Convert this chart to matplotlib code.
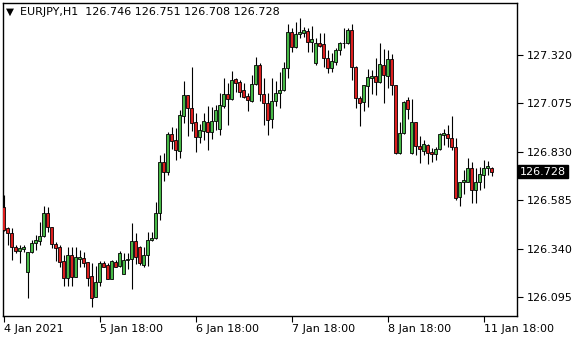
import numpy as np
import matplotlib
matplotlib.use("Agg")
import matplotlib.pyplot as plt
import matplotlib.transforms as mtransforms

symbol = "EURJPY,H1"

# hourly candles, oldest first (open, high, low, close)
opens = [126.549, 126.442, 126.417, 126.346, 126.329, 126.339, 126.220, 126.321, 126.367, 126.380,
         126.404, 126.518, 126.448, 126.362, 126.346, 126.277, 126.193, 126.306, 126.198, 126.289,
         126.291, 126.272, 126.200, 126.097, 126.170, 126.266, 126.255, 126.188, 126.272, 126.250,
         126.213, 126.281, 126.286, 126.378, 126.348, 126.258, 126.306, 126.382, 126.392, 126.518,
         126.776, 126.729, 126.917, 126.887, 126.832, 127.012, 127.116, 127.049, 126.982, 126.904,
         126.934, 126.980, 126.931, 126.985, 126.944, 127.060, 127.121, 127.096, 127.197, 127.182,
         127.141, 127.111, 127.087, 127.172, 127.268, 127.120, 127.074, 126.994, 127.086, 127.125,
         127.141, 127.251, 127.433, 127.360, 127.423, 127.431, 127.439, 127.382, 127.276, 127.377,
         127.372, 127.301, 127.251, 127.284, 127.343, 127.377, 127.377, 127.444, 127.259, 127.099,
         127.079, 127.163, 127.203, 127.212, 127.182, 127.268, 127.212, 127.296, 127.166, 126.821,
         126.922, 127.091, 126.824, 126.978, 126.858, 126.835, 126.863, 126.830, 126.816, 126.842,
         126.915, 126.917, 126.897, 126.855, 126.599, 126.675, 126.678, 126.746, 126.636, 126.675,
         126.712, 126.746, 126.746]
highs = [126.611, 126.451, 126.442, 126.358, 126.358, 126.358, 126.324, 126.383, 126.409, 126.476,
         126.555, 126.552, 126.451, 126.375, 126.358, 126.308, 126.349, 126.349, 126.349, 126.333,
         126.324, 126.274, 126.266, 126.252, 126.279, 126.279, 126.266, 126.282, 126.282, 126.329,
         126.319, 126.316, 126.471, 126.417, 126.353, 126.349, 126.425, 126.425, 126.577, 126.813,
         126.823, 126.931, 126.954, 126.948, 127.040, 127.187, 127.118, 127.259, 127.027, 126.968,
         127.027, 127.060, 127.057, 127.065, 127.125, 127.200, 127.175, 127.237, 127.200, 127.192,
         127.175, 127.125, 127.217, 127.310, 127.278, 127.200, 127.125, 127.200, 127.187, 127.234,
         127.284, 127.477, 127.453, 127.483, 127.504, 127.461, 127.453, 127.465, 127.403, 127.431,
         127.431, 127.343, 127.327, 127.352, 127.385, 127.453, 127.453, 127.475, 127.262, 127.110,
         127.168, 127.246, 127.242, 127.304, 127.380, 127.347, 127.343, 127.323, 127.168, 126.978,
         127.087, 127.104, 127.094, 126.980, 126.909, 126.889, 126.868, 126.847, 126.855, 126.924,
         126.943, 126.964, 127.010, 126.897, 126.678, 126.737, 126.796, 126.779, 126.748, 126.754,
         126.788, 126.784, 126.751]
lows = [126.429, 126.358, 126.282, 126.316, 126.269, 126.324, 126.089, 126.316, 126.333, 126.358,
        126.400, 126.425, 126.341, 126.277, 126.245, 126.151, 126.151, 126.151, 126.196, 126.248,
        126.245, 126.151, 126.043, 126.094, 126.151, 126.245, 126.185, 126.185, 126.245, 126.245,
        126.211, 126.235, 126.134, 126.262, 126.257, 126.245, 126.253, 126.378, 126.388, 126.484,
        126.681, 126.712, 126.842, 126.790, 126.799, 126.975, 126.909, 126.933, 126.830, 126.875,
        126.889, 126.838, 126.894, 126.939, 126.914, 127.049, 126.964, 127.091, 127.133, 127.107,
        127.099, 127.037, 127.082, 127.166, 127.086, 126.964, 126.916, 126.948, 127.060, 127.052,
        127.138, 127.200, 127.335, 127.355, 127.403, 127.411, 127.335, 127.335, 127.268, 127.360,
        127.259, 127.226, 127.234, 127.268, 127.318, 127.352, 127.375, 127.192, 127.049, 126.961,
        127.037, 127.057, 127.121, 127.116, 127.175, 127.076, 127.151, 127.116, 126.819, 126.819,
        126.919, 126.993, 126.818, 126.813, 126.774, 126.813, 126.767, 126.779, 126.788, 126.838,
        126.863, 126.855, 126.838, 126.585, 126.557, 126.616, 126.676, 126.569, 126.569, 126.636,
        126.645, 126.712, 126.708]
closes = [126.434, 126.417, 126.346, 126.329, 126.341, 126.346, 126.321, 126.367, 126.383, 126.404,
          126.518, 126.451, 126.362, 126.344, 126.274, 126.193, 126.306, 126.198, 126.296, 126.296,
          126.269, 126.193, 126.089, 126.170, 126.266, 126.248, 126.188, 126.277, 126.248, 126.318,
          126.281, 126.287, 126.378, 126.299, 126.266, 126.306, 126.382, 126.392, 126.518, 126.776,
          126.729, 126.917, 126.885, 126.837, 127.014, 127.116, 127.049, 126.977, 126.904, 126.939,
          126.985, 126.931, 126.985, 127.040, 127.065, 127.121, 127.096, 127.192, 127.178, 127.133,
          127.107, 127.091, 127.172, 127.268, 127.120, 127.074, 126.992, 127.086, 127.125, 127.141,
          127.251, 127.433, 127.360, 127.423, 127.433, 127.444, 127.382, 127.399, 127.377, 127.365,
          127.301, 127.251, 127.288, 127.343, 127.377, 127.380, 127.444, 127.256, 127.102, 127.074,
          127.166, 127.205, 127.212, 127.183, 127.271, 127.217, 127.296, 127.166, 126.821, 126.922,
          127.082, 127.044, 126.978, 126.858, 126.842, 126.868, 126.824, 126.816, 126.842, 126.919,
          126.922, 126.897, 126.855, 126.594, 126.675, 126.686, 126.746, 126.636, 126.675, 126.717,
          126.746, 126.757, 126.728]

price_ticks = [126.095, 126.340, 126.585, 126.830, 127.075, 127.320]
date_ticks = [0, 24, 48, 72, 96, 120]
date_labels = ["4 Jan 2021", "5 Jan 18:00", "6 Jan 18:00", "7 Jan 18:00", "8 Jan 18:00", "11 Jan 18:00"]

o = np.array(opens)
h = np.array(highs)
l = np.array(lows)
c = np.array(closes)
x = np.arange(len(o))
up = c >= o
cols = np.where(up, "#46b946", "#dc1e1e")

fig = plt.figure(figsize=(5.8, 3.4), dpi=100)
ax = fig.add_axes([3 / 580, (340 - 315.7) / 340, (516.7 - 3) / 580, (315.7 - 3) / 340])

ax.vlines(x, l, h, color="black", linewidth=0.8, zorder=2)
ax.bar(x, np.maximum(np.abs(c - o), 0.002), bottom=np.minimum(o, c), width=0.62,
       color=cols, edgecolor="black", linewidth=0.6, zorder=3)

ax.set_xlim(-0.125, 128.3)
ax.set_ylim(126.0006, 127.581)

ax.yaxis.tick_right()
ax.set_yticks(price_ticks)
ax.set_yticklabels(["%.3f" % p for p in price_ticks])
ax.tick_params(axis="y", direction="out", length=4, width=0.8, pad=3, labelsize=8)
ax.set_xticks(date_ticks)
ax.set_xticklabels(date_labels, ha="left")
ax.tick_params(axis="x", direction="out", length=4, width=0.8, pad=2, labelsize=8)
for s in ax.spines.values():
    s.set_linewidth(1.0)
    s.set_color("black")

# current price tag
trans = mtransforms.blended_transform_factory(ax.transAxes, ax.transData)
ax.text(1.006, closes[-1], "%.3f" % closes[-1], transform=trans, ha="left", va="center",
        fontsize=8, color="white",
        bbox=dict(boxstyle="square,pad=0.15", facecolor="black", edgecolor="black"))

fig.text(6 / 580, 1 - 12 / 340, "\u25bc", fontsize=7.5, va="center", ha="left")
fig.text(20 / 580, 1 - 12 / 340,
         "%s  %.3f %.3f %.3f %.3f" % (symbol, opens[-1], highs[-1], lows[-1], closes[-1]),
         fontsize=8, va="center", ha="left")

fig.savefig("out.png", dpi=100)
